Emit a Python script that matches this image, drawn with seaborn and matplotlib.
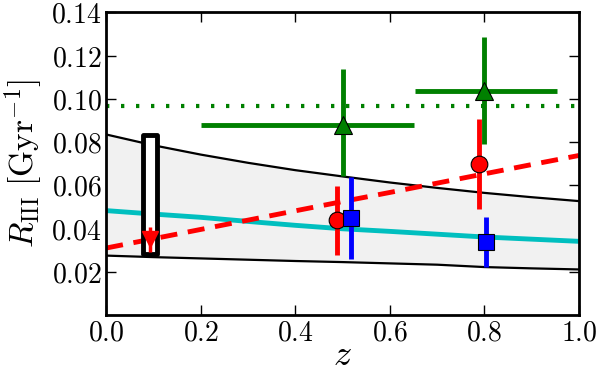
import numpy as np
import pandas as pd
import matplotlib
matplotlib.use("Agg")
import matplotlib.pyplot as plt
from matplotlib.ticker import FormatStrFormatter
import seaborn as sns

# model curves
z_curve = [0.0, 0.1, 0.2, 0.3, 0.4, 0.5, 0.6, 0.7, 0.8, 0.9, 1.0]
upper = [0.0835, 0.0785, 0.0742, 0.0704, 0.0670, 0.0641, 0.0613, 0.0588, 0.0565, 0.0545, 0.0527]
lower = [0.0275, 0.0268, 0.0262, 0.0256, 0.0250, 0.0245, 0.0239, 0.0233, 0.0222, 0.0216, 0.0211]
cyan = [0.0483, 0.0467, 0.0452, 0.0433, 0.0415, 0.0399, 0.0387, 0.0374, 0.0361, 0.0351, 0.0341]
red_fit = [0.0310, 0.0353, 0.0396, 0.0439, 0.0482, 0.0525, 0.0567, 0.0610, 0.0653, 0.0696, 0.0738]
green_level = 0.0965

# green triangles
tri_z = [0.50, 0.80]
tri_r = [0.0880, 0.1037]
tri_zlo = [0.20, 0.653]
tri_zhi = [0.652, 0.953]
tri_rlo = [0.0644, 0.0789]
tri_rhi = [0.1136, 0.1284]

# red circles
circ_z = [0.4875, 0.789]
circ_r = [0.0440, 0.0700]
circ_rlo = [0.0280, 0.0490]
circ_rhi = [0.0597, 0.0907]

# blue squares
sq_z = [0.517, 0.803]
sq_r = [0.0448, 0.0338]
sq_rlo = [0.0261, 0.0222]
sq_rhi = [0.0639, 0.0455]

# low-z box and upper limit
box_z = 0.092
box_lo = 0.0281
box_hi = 0.0831
box_w = 0.029
lim_z = 0.092
lim_r = 0.0352
lim_lo = 0.0290
lim_hi = 0.0405

sns.set_style("ticks")
plt.rcParams["mathtext.fontset"] = "cm"
plt.rcParams["font.family"] = ["DejaVu Serif"]

curves = pd.DataFrame({"z": z_curve, "upper": upper, "lower": lower,
                       "cyan": cyan, "red": red_fit})

fig, ax = plt.subplots(figsize=(6, 3.72), dpi=100)
fig.subplots_adjust(left=0.177, right=0.965, bottom=0.153, top=0.967)

ax.fill_between(curves["z"], curves["lower"], curves["upper"],
                color="0.945", lw=0, zorder=1)
sns.lineplot(data=curves, x="z", y="upper", color="k", lw=1.6, ax=ax, zorder=2)
sns.lineplot(data=curves, x="z", y="lower", color="k", lw=1.6, ax=ax, zorder=2)
sns.lineplot(data=curves, x="z", y="cyan", color="c", lw=3.5, ax=ax, zorder=2)
sns.lineplot(data=curves, x="z", y="red", color="r", lw=3.5, ax=ax, zorder=2,
             linestyle=(0, (3.5, 2.2)))
ax.axhline(green_level, color="g", lw=3, linestyle=(0, (0.8, 2.8)), zorder=2)

ax.bar(box_z, box_hi - box_lo, bottom=box_lo, width=box_w, facecolor="white",
       edgecolor="k", lw=3.5, joinstyle="round", zorder=3)

ax.errorbar([lim_z], [lim_r], yerr=[[lim_r - lim_lo], [lim_hi - lim_r]],
            fmt="v", color="r", ms=12, mec="r", elinewidth=2.5, capsize=0, zorder=4)

tz = np.array(tri_z); tr = np.array(tri_r)
ax.errorbar(tz, tr, xerr=[tz - np.array(tri_zlo), np.array(tri_zhi) - tz],
            yerr=[tr - np.array(tri_rlo), np.array(tri_rhi) - tr],
            fmt="^", color="g", mec="k", mew=0.8, ms=13, elinewidth=3.5,
            capsize=0, zorder=4)

cz = np.array(circ_z); cr = np.array(circ_r)
ax.errorbar(cz, cr, yerr=[cr - np.array(circ_rlo), np.array(circ_rhi) - cr],
            fmt="o", color="r", mec="k", mew=0.8, ms=12, elinewidth=3.5,
            capsize=0, zorder=4)

sz = np.array(sq_z); sr = np.array(sq_r)
ax.errorbar(sz, sr, yerr=[sr - np.array(sq_rlo), np.array(sq_rhi) - sr],
            fmt="s", color="b", mec="k", mew=0.8, ms=11.5, elinewidth=3.5,
            capsize=0, zorder=5)

ax.set_xlim(0, 1)
ax.set_ylim(0, 0.14)
ax.set_xticks([0.0, 0.2, 0.4, 0.6, 0.8, 1.0])
ax.set_yticks([0.02, 0.04, 0.06, 0.08, 0.10, 0.12, 0.14])
ax.xaxis.set_major_formatter(FormatStrFormatter(r"$%.1f$"))
ax.yaxis.set_major_formatter(FormatStrFormatter(r"$%.2f$"))
ax.tick_params(direction="in", top=True, right=True, length=7, width=1,
               color="k", labelcolor="k", labelsize=20, pad=3)
for s in ax.spines.values():
    s.set_linewidth(2)
    s.set_color("k")
    s.set_visible(True)

ax.set_xlabel(r"$z$", fontsize=26, color="k")
ax.xaxis.set_label_coords(0.5, -0.075)
ax.set_ylabel(r"$R_{\rm III}\ [{\rm Gyr}^{-1}]$", fontsize=24, color="k")
ax.yaxis.set_label_coords(-0.13, 0.5)

fig.savefig("out.png", dpi=100)
